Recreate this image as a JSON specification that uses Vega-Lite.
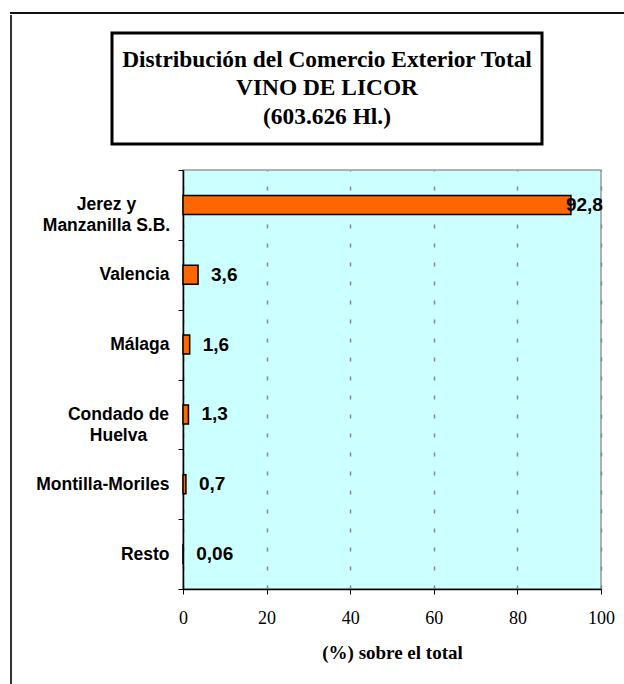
{
  "$schema": "https://vega.github.io/schema/vega-lite/v6.json",
  "background": "white",
  "padding": {"left": 10, "top": 12, "right": 0, "bottom": 0},
  "spacing": 0,
  "config": {"font": "Liberation Sans"},
  "vconcat": [
    {
      "width": 613,
      "height": 0.01,
      "view": {"stroke": "#111111", "strokeWidth": 2, "fill": null},
      "data": {"values": []},
      "mark": "text"
    },
    {
      "spacing": 22,
      "hconcat": [
        {
          "width": 0.01,
          "height": 669,
          "view": {"stroke": "#333333", "strokeWidth": 2, "fill": null},
          "data": {"values": []},
          "mark": "text"
        },
        {
          "spacing": 14,
          "vconcat": [
            {
              "width": 1,
              "height": 0.01,
              "view": {"stroke": null, "fill": null},
              "data": {"values": []},
              "mark": "text"
            },
            {
              "width": 430,
              "height": 111,
              "view": {"stroke": "black", "strokeWidth": 3, "fill": "white"},
              "data": {"values": [{"id": 1}]},
              "mark": {
                "type": "text",
                "text": ["Distribución del Comercio Exterior Total", "VINO DE LICOR", "(603.626 Hl.)"],
                "font": "Liberation Serif",
                "fontWeight": "bold",
                "fontSize": 23.4,
                "lineHeight": 28.7,
                "align": "center",
                "baseline": "middle",
                "dy": -28.7,
                "color": "black"
              }
            },
            {
              "bounds": "flush",
              "spacing": 10,
              "hconcat": [
                {
                  "width": 61,
                  "height": 1,
                  "view": {"stroke": null, "fill": null},
                  "data": {"values": []},
                  "mark": "text"
                },
                {
                  "width": 418,
                  "height": 419,
                  "view": {"fill": "#CCFFFF", "stroke": "#999999", "strokeWidth": 1.5},
                  "data": {
                    "values": [
                      {"region": "Jerez y Manzanilla S.B.", "pct": 92.8, "label": "92,8"},
                      {"region": "Valencia", "pct": 3.6, "label": "3,6"},
                      {"region": "Málaga", "pct": 1.6, "label": "1,6"},
                      {"region": "Condado de Huelva", "pct": 1.3, "label": "1,3"},
                      {"region": "Montilla-Moriles", "pct": 0.7, "label": "0,7"},
                      {"region": "Resto", "pct": 0.06, "label": "0,06"}
                    ]
                  },
                  "encoding": {
                    "y": {
                      "field": "region",
                      "type": "nominal",
                      "sort": null,
                      "scale": {"paddingInner": 0, "paddingOuter": 0},
                      "axis": {
                        "title": null,
                        "domainColor": "black",
                        "domainWidth": 1.5,
                        "tickColor": "black",
                        "tickWidth": 1,
                        "tickSize": 5,
                        "tickBand": "extent",
                        "grid": false,
                        "labelFont": "Liberation Sans",
                        "labelFontWeight": "bold",
                        "labelFontSize": 17.5,
                        "labelColor": "black",
                        "labelLimit": 300,
                        "labelLineHeight": 21,
                        "labelExpr": "datum.value == 'Jerez y Manzanilla S.B.' ? ['Jerez y', 'Manzanilla S.B.'] : datum.value == 'Condado de Huelva' ? ['Condado de', 'Huelva'] : datum.label",
                        "labelAlign": {"condition": {"test": "datum.value == 'Jerez y Manzanilla S.B.' || datum.value == 'Condado de Huelva'", "value": "center"}, "value": "right"},
                        "labelPadding": {"condition": [{"test": "datum.value == 'Jerez y Manzanilla S.B.'", "value": 72}, {"test": "datum.value == 'Condado de Huelva'", "value": 60}], "value": 9}
                      }
                    },
                    "x": {
                      "field": "pct",
                      "type": "quantitative",
                      "scale": {"domain": [0, 100], "nice": false},
                      "axis": {
                        "values": [0, 20, 40, 60, 80, 100],
                        "title": "(%) sobre el total",
                        "grid": true,
                        "gridDash": [4, 15],
                        "gridColor": "#888888",
                        "gridWidth": 1.5,
                        "domainColor": "black",
                        "domainWidth": 1.5,
                        "tickColor": "black",
                        "tickSize": 5,
                        "labelFlush": false,
                        "labelFont": "Liberation Serif",
                        "labelFontSize": 18,
                        "labelColor": "black",
                        "labelPadding": 15,
                        "titleFont": "Liberation Serif",
                        "titleFontSize": 19,
                        "titleFontWeight": "bold",
                        "titleColor": "black",
                        "titlePadding": 16
                      }
                    }
                  },
                  "layer": [
                    {
                      "mark": {"type": "bar", "fill": "#FF6600", "stroke": "black", "strokeWidth": 1.5, "size": 19}
                    },
                    {
                      "transform": [{"filter": "datum.pct < 90"}],
                      "mark": {"type": "text", "align": "left", "baseline": "middle", "dx": 13, "font": "Liberation Sans", "fontWeight": "bold", "fontSize": 19, "color": "black"},
                      "encoding": {"text": {"field": "label"}}
                    },
                    {
                      "transform": [{"filter": "datum.pct >= 90"}],
                      "mark": {"type": "text", "align": "left", "baseline": "middle", "dx": -5, "font": "Liberation Sans", "fontWeight": "bold", "fontSize": 19, "color": "black"},
                      "encoding": {"text": {"field": "label"}}
                    }
                  ]
                }
              ]
            }
          ]
        }
      ]
    }
  ]
}
